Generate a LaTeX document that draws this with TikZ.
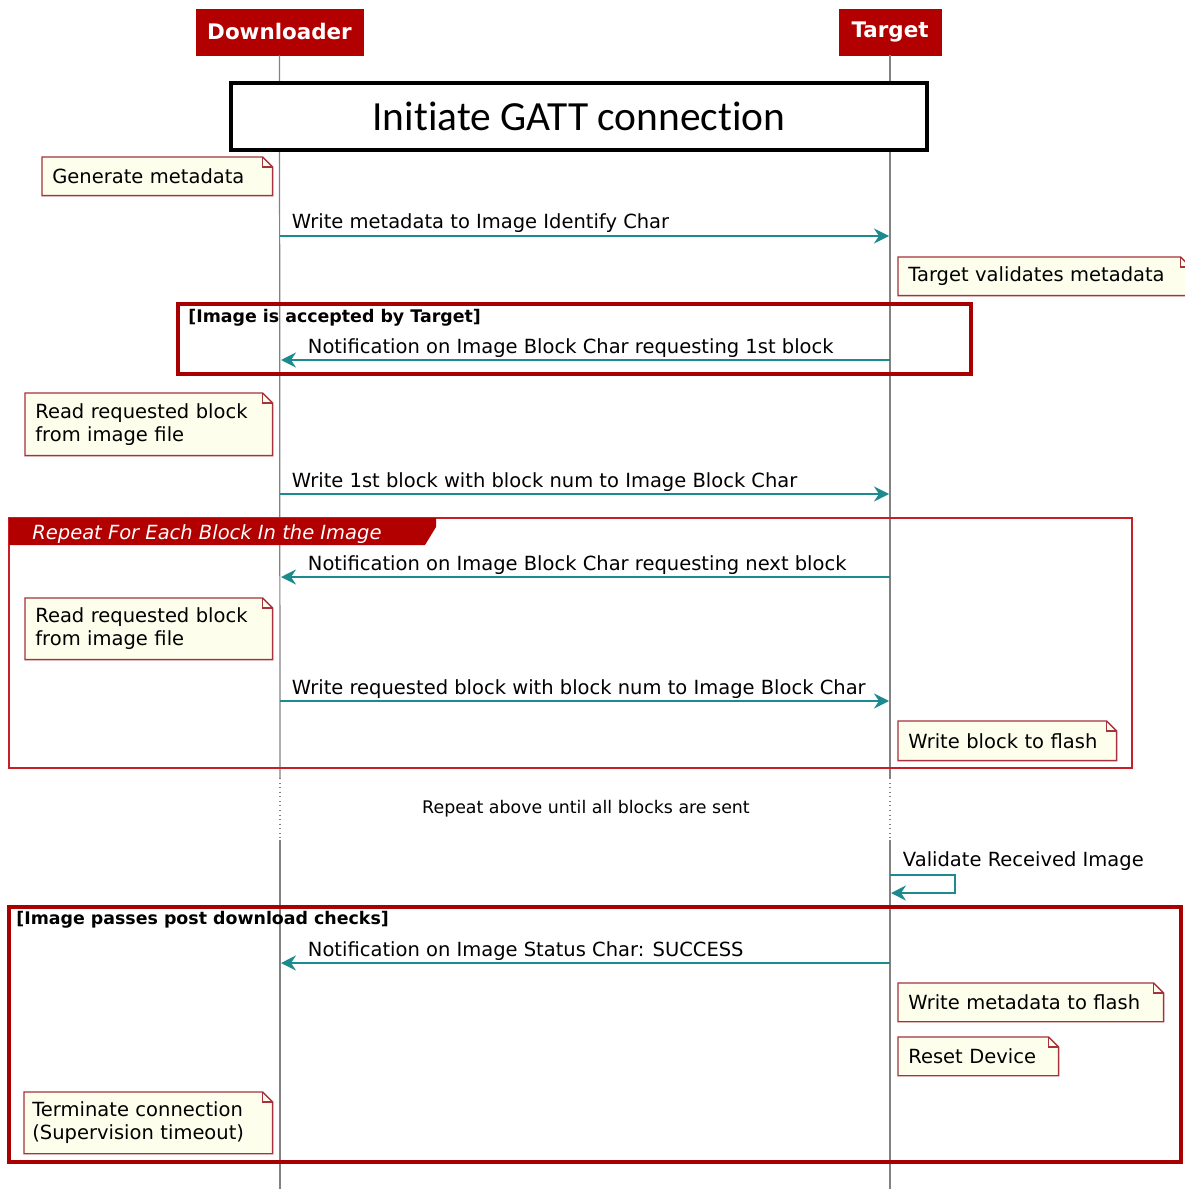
\documentclass[tikz,border=0pt]{standalone}
\usepackage{fontspec}
\setmainfont{DejaVu Sans}
\newfontfamily\titlefont[Ligatures=NoCommon]{Carlito}
\usepackage{tikz}
\usetikzlibrary{arrows.meta,calc,backgrounds,positioning}
\definecolor{partred}{RGB}{178,0,0}
\definecolor{altred}{RGB}{168,0,0}
\definecolor{loopred}{RGB}{200,30,40}
\definecolor{notered}{RGB}{165,50,60}
\definecolor{notefill}{RGB}{254,254,236}
\definecolor{msgteal}{RGB}{28,138,142}
\definecolor{lifegray}{RGB}{130,130,130}
\newcommand{\msgfont}{\fontsize{11.1}{13}\selectfont}
\newcommand{\smallfont}{\fontsize{9.9}{12}\selectfont}
\newcommand{\notefold}[1]{%
\begin{scope}[on background layer]
\filldraw[fill=notefill, draw=notered, line width=0.8pt] (#1.south west) -- (#1.north west) -- ($(#1.north east)+(-10,0)$) -- ($(#1.north east)+(0,10)$) -- (#1.south east) -- cycle;
\end{scope}
\draw[notered, line width=0.8pt] ($(#1.north east)+(-10,0)$) -- ++(0,10) -- ($(#1.north east)+(0,10)$);}

\begin{document}
\begin{tikzpicture}
[x=0.02cm, y=-0.02cm,
part/.style={fill=partred, draw=partred, text=white, font=\bfseries\fontsize{12.2}{14}\selectfont, minimum height=0.92cm, inner sep=0},
life/.style={draw=lifegray, line width=0.7pt},
msg/.style={draw=msgteal, line width=1.1pt, -{Stealth[length=0.3cm,width=0.3cm,inset=0.1cm]}},
lbl/.style={anchor=base west, inner sep=0, font=\msgfont, yshift=0.14cm},
notebox/.style={anchor=north west, align=left, inner xsep=0.2cm, inner ysep=0, font=\msgfont},
altbox/.style={draw=altred, line width=2.6pt},
loopbox/.style={draw=loopred, line width=1.3pt},
grouplbl/.style={anchor=base west, inner sep=0, font=\bfseries\smallfont}]
\useasboundingbox (0,0) rectangle (1185,1189);
\begin{scope}[on background layer]
\fill[white] (0,0) rectangle (1185,1189);
\end{scope}

\node (down) at (279.5,32) [part, minimum width=3.34cm] {Downloader};
\node (targ) at (890,32) [part, minimum width=2.04cm] {Target};

\coordinate (dgap1) at (280,778);
\coordinate (dgap2) at (280,840);
\coordinate (dbot) at (280,1189);
\coordinate (tgap1) at (890,778);
\coordinate (tgap2) at (890,840);
\coordinate (tbot) at (890,1189);

\draw[life] (down.south) -- (dgap1);
\draw[life, dash pattern=on 0.6pt off 2pt] (dgap1) -- (dgap2);
\draw[life] (dgap2) -- (dbot);
\draw[life] (targ.south) -- (tgap1);
\draw[life, dash pattern=on 0.6pt off 2pt] (tgap1) -- (tgap2);
\draw[life] (tgap2) -- (tbot);

\node (gatt) at (579,116.5) [draw=black, fill=white, line width=2.3pt, minimum width=13.92cm, minimum height=1.34cm, font=\titlefont\fontsize{23.6}{26}\selectfont] {Initiate GATT connection};

\draw[altbox] (178,304) rectangle (971,374);
\node (alt1) at (188,322) [grouplbl] {[Image is accepted by Target]};

\draw[loopbox] (9,518) rectangle (1132,768);
\fill[partred] (9,518) -- (436,518) -- (436,527) -- (425,545) -- (9,545) -- cycle;
\node (loop) at (32,539) [anchor=base west, inner sep=0, text=white, font=\itshape\msgfont] {Repeat For Each Block In the Image};

\draw[altbox] (9,907) rectangle (1181,1162);
\node (alt2) at (16,924) [grouplbl] {[Image passes post download checks]};

\node (delay) at (586,809) [font=\smallfont] {Repeat above until all blocks are sent};

\node (n1) at (42,157) [notebox, text width=4.2cm, minimum height=0.76cm] {Generate metadata};
\node (n2) at (898,257) [notebox, text width=5.44cm, minimum height=0.76cm] {Target validates metadata};
\node (n3) at (25,393) [notebox, text width=4.54cm, minimum height=1.24cm] {Read requested block\\from image file};
\node (n4) at (25,598) [notebox, text width=4.54cm, minimum height=1.22cm] {Read requested block\\from image file};
\node (n5) at (898,721) [notebox, text width=3.96cm, minimum height=0.78cm] {Write block to flash};
\node (n6) at (898,983) [notebox, text width=4.9cm, minimum height=0.76cm] {Write metadata to flash};
\node (n7) at (898,1037) [notebox, text width=2.8cm, minimum height=0.76cm] {Reset Device};
\node (n8) at (24,1092) [notebox, inner xsep=0.16cm, text width=4.64cm, minimum height=1.22cm] {Terminate connection\\(Supervision timeout)};
\notefold{n1}
\notefold{n2}
\notefold{n3}
\notefold{n4}
\notefold{n5}
\notefold{n6}
\notefold{n7}
\notefold{n8}

\coordinate (d1) at (280,236);
\coordinate (t1) at (889,236);
\coordinate (t2) at (890,360);
\coordinate (d2) at (281,360);
\coordinate (d3) at (280,494);
\coordinate (t3) at (889,494);
\coordinate (t4) at (890,577);
\coordinate (d4) at (281,577);
\coordinate (d5) at (280,701);
\coordinate (t5) at (889,701);
\coordinate (t6a) at (890,875);
\coordinate (t6b) at (955,875);
\coordinate (t6c) at (955,893);
\coordinate (t6d) at (891,893);
\coordinate (t7) at (890,963);
\coordinate (d7) at (281,963);

\draw[msg] (d1) -- (t1) node [lbl, pos=0, xshift=0.22cm] (m1) {Write metadata to Image Identify Char};
\draw[msg] (t2) -- (d2) node [lbl, pos=1, xshift=0.52cm] (m2) {Notification on Image Block Char requesting 1st block};
\draw[msg] (d3) -- (t3) node [lbl, pos=0, xshift=0.22cm] (m3) {Write 1st block with block num to Image Block Char};
\draw[msg] (t4) -- (d4) node [lbl, pos=1, xshift=0.52cm] (m4) {Notification on Image Block Char requesting next block};
\draw[msg] (d5) -- (t5) node [lbl, pos=0, xshift=0.22cm] (m5) {Write requested block with block num to Image Block Char};
\draw[msg] (t6a) node [lbl, xshift=0.24cm, yshift=0.04cm] (m6) {Validate Received Image} -- (t6b) -- (t6c) -- (t6d);
\draw[msg] (t7) -- (d7) node [lbl, pos=1, xshift=0.52cm] (m7) {Notification on Image Status Char: SUCCESS};

\end{tikzpicture}
\end{document}
